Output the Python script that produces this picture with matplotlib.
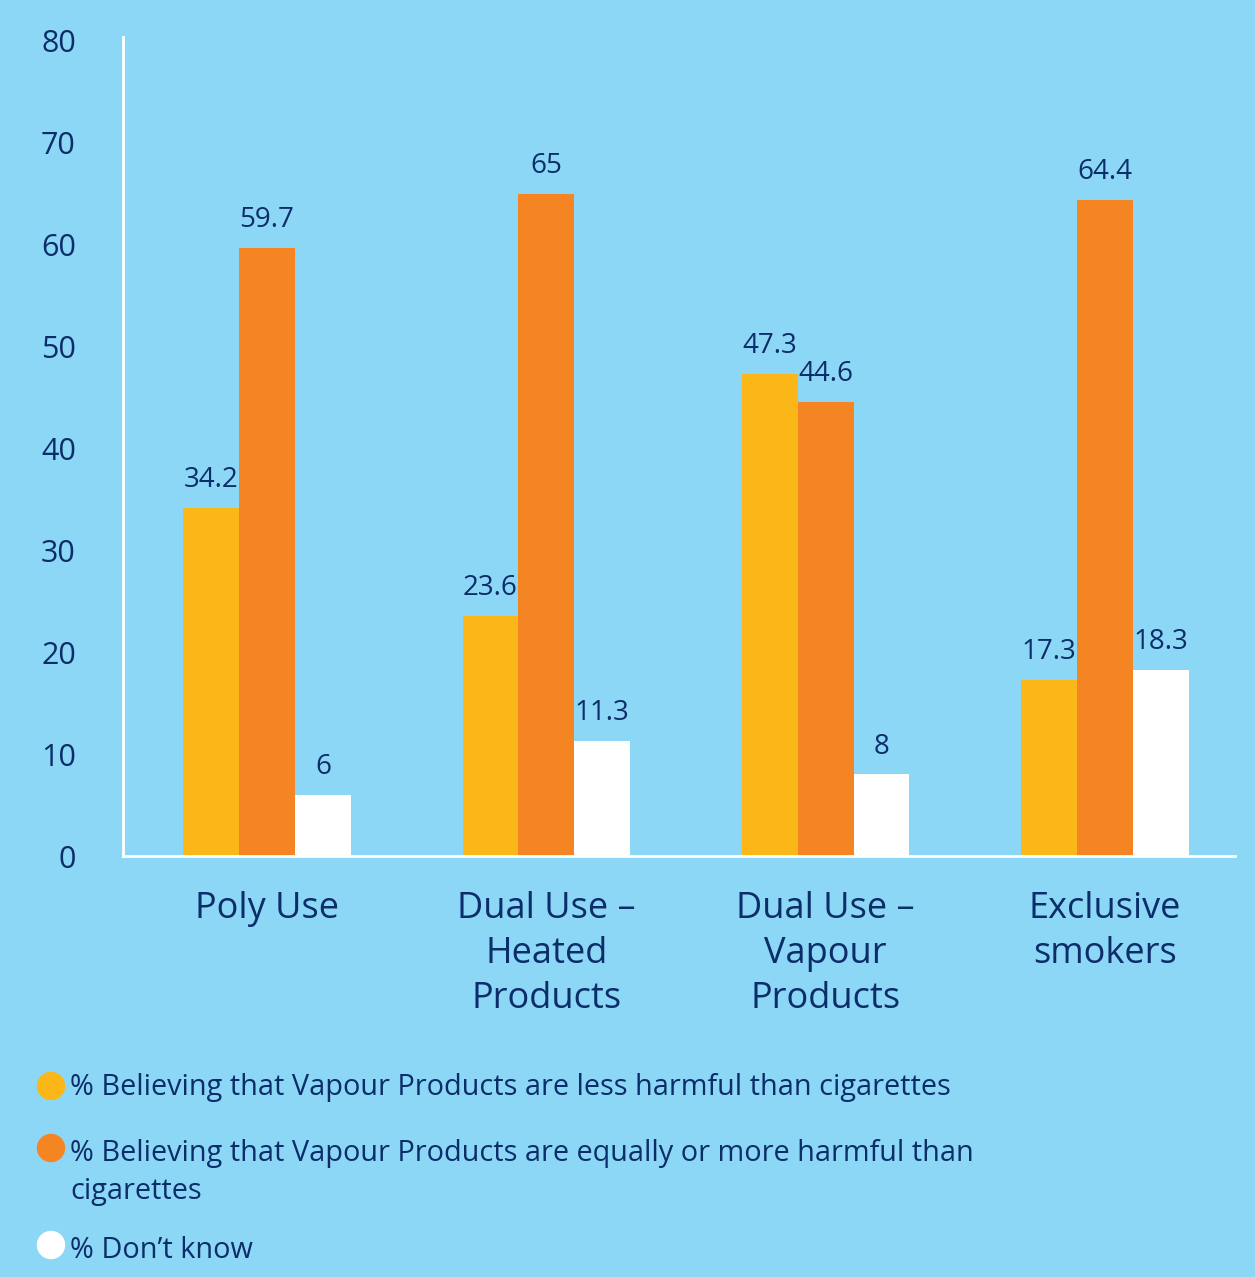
import matplotlib
matplotlib.use("Agg")
import matplotlib.pyplot as plt
import numpy as np

categories = ["Poly Use", "Dual Use –\nHeated\nProducts", "Dual Use –\nVapour\nProducts", "Exclusive\nsmokers"]
series_names = [
    "% Believing that Vapour Products are less harmful than cigarettes",
    "% Believing that Vapour Products are equally or more harmful than\ncigarettes",
    "% Don’t know",
]
less_harmful = [34.2, 23.6, 47.3, 17.3]
equal_more = [59.7, 65, 44.6, 64.4]
dont_know = [6, 11.3, 8, 18.3]
value_labels = [
    ["34.2", "23.6", "47.3", "17.3"],
    ["59.7", "65", "44.6", "64.4"],
    ["6", "11.3", "8", "18.3"],
]
yticks = [0, 10, 20, 30, 40, 50, 60, 70, 80]

BG = "#8DD7F6"
NAVY = "#0B2D69"
colors = ["#FBB718", "#F58523", "#FFFFFF"]
FONT = ["Open Sans", "DejaVu Sans"]
plt.rcParams["font.family"] = FONT

fig = plt.figure(figsize=(12.55, 12.77), dpi=100, facecolor=BG)
ax = fig.add_axes([123/1255, 421/1277, (1235-123)/1255, (856-37)/1277])
ax.set_facecolor(BG)

x = np.arange(len(categories))
w = 0.2
data = [less_harmful, equal_more, dont_know]
for i, (vals, col) in enumerate(zip(data, colors)):
    xs = x + (i - 1) * w
    ax.bar(xs, vals, width=w, color=col, edgecolor="none", zorder=2)
    for xi, v, lab in zip(xs, vals, value_labels[i]):
        ax.annotate(lab, (xi, v), xytext=(0, 10), textcoords="offset points",
                    ha="center", va="bottom", fontsize=20, color=NAVY)

ax.set_xlim(-0.516, 3.466)
ax.set_ylim(0, 80.39)
ax.set_yticks(yticks)
ax.set_yticklabels([str(t) for t in yticks])
ax.set_xticks(x)
ax.set_xticklabels(categories, fontsize=26, color=NAVY, linespacing=1.33)
ax.tick_params(axis="y", length=0, pad=34, labelsize=22, labelcolor=NAVY)
ax.tick_params(axis="x", length=0, pad=25)
for s in ["top", "right"]:
    ax.spines[s].set_visible(False)
for s in ["left", "bottom"]:
    ax.spines[s].set_color("white")
    ax.spines[s].set_linewidth(2)

# legend area
lax = fig.add_axes([0, 0, 1, 1])
lax.set_xlim(0, 1255)
lax.set_ylim(1277, 0)
lax.axis("off")
ly = [1086, 1148, 1245]
for yy, col in zip(ly, colors):
    lax.scatter([51], [yy], s=420, color=col, edgecolors="none")
lines2 = series_names[1].split("\n")
text_rows = [(1088, series_names[0]), (1153, lines2[0]), (1191, lines2[1]), (1250, series_names[2])]
for yy, t in text_rows:
    lax.text(70, yy, t, fontsize=20.8, color=NAVY, va="center")

fig.savefig("out.png", dpi=100, facecolor=BG)
